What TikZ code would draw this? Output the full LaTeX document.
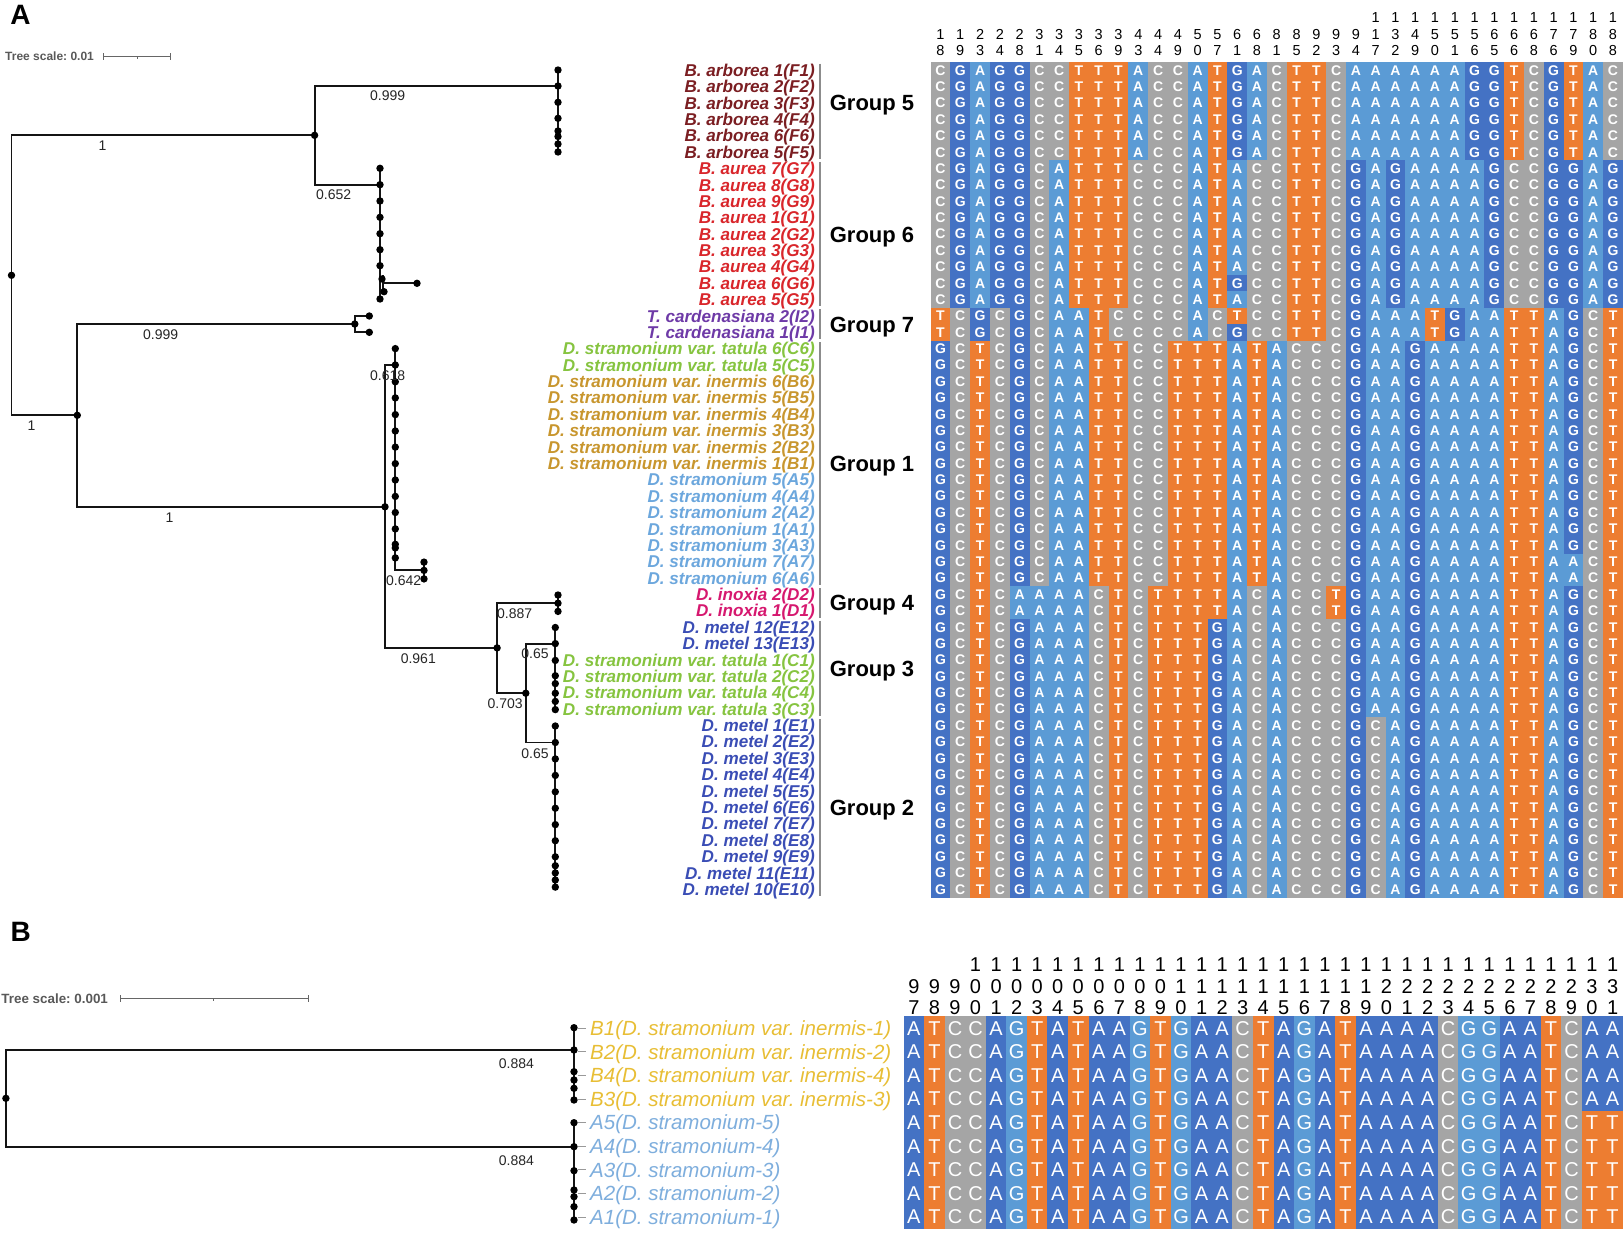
\documentclass[tikz,border=0pt]{standalone}
\usepackage{fontspec}
\setmainfont{Liberation Sans}
\usepackage{xstring}
\frenchspacing
\definecolor{cAA}{HTML}{5B9BD5}
\definecolor{cAG}{HTML}{4472C4}
\definecolor{cAT}{HTML}{ED7D31}
\definecolor{cAC}{HTML}{A5A5A5}
\definecolor{cBA}{HTML}{4472C4}
\definecolor{cBG}{HTML}{5B9BD5}
\definecolor{cBT}{HTML}{ED7D31}
\definecolor{cBC}{HTML}{A5A5A5}
\definecolor{arb}{HTML}{7B1E22}
\definecolor{aur}{HTML}{D9262B}
\definecolor{car}{HTML}{6E3AA7}
\definecolor{tat}{HTML}{86C440}
\definecolor{ine}{HTML}{C8962E}
\definecolor{str}{HTML}{6CA7DD}
\definecolor{ino}{HTML}{D6186F}
\definecolor{met}{HTML}{3A4DB5}
\definecolor{bine}{HTML}{E8BE35}
\definecolor{bstr}{HTML}{7EAEDD}
\def\SqV{CGAGGCCTTTACCATGACTTCAAAAAAGGTCGTAC}
\def\SqVI{CGAGGCATTTCCCATACCTTCGAGAAAAGCCGGAG}
\def\SqVIb{CGAGGCATTTCCCATGCCTTCGAGAAAAGCCGGAG}
\def\SqVIIa{TCGCGCAATCCCCACTCCTTCGAAATGAATTAGCT}
\def\SqVIIb{TCGCGCAATCCCCACGCCTTCGAAATGAATTAGCT}
\def\SqI{GCTCGCAATTCCTTTATACCCGAAGAAAATTAGCT}
\def\SqIb{GCTCGCAATTCCTTTATACCCGAAGAAAATTAACT}
\def\SqIV{GCTCAAAACTCTTTTACACCTGAAGAAAATTAGCT}
\def\SqIII{GCTCGAAACTCTTTGACACCCGAAGAAAATTAGCT}
\def\SqII{GCTCGAAACTCTTTGACACCCGCAGAAAATTAGCT}
\def\SqBa{ATCCAGTATAAGTGAACTAGATAAAACGGAATCAA}
\def\SqBb{ATCCAGTATAAGTGAACTAGATAAAACGGAATCTT}
\newcommand\pickA[1]{%
 \ifnum#1<7 \let\curseq\SqV
 \else\ifnum#1=14 \let\curseq\SqVIb
 \else\ifnum#1<16 \let\curseq\SqVI
 \else\ifnum#1=16 \let\curseq\SqVIIa
 \else\ifnum#1=17 \let\curseq\SqVIIb
 \else\ifnum#1<31 \let\curseq\SqI
 \else\ifnum#1<33 \let\curseq\SqIb
 \else\ifnum#1<35 \let\curseq\SqIV
 \else\ifnum#1<41 \let\curseq\SqIII
 \else \let\curseq\SqII
 \fi\fi\fi\fi\fi\fi\fi\fi\fi}
\def\AX{930.6}\def\AY{62.1}\def\AW{19.78}\def\AH{16.38}
\def\BX{903.6}\def\BY{1016.4}\def\BW{20.55}\def\BH{23.59}
\begin{document}
\begin{tikzpicture}[x=1pt,y=-1pt,
  br/.style={line width=1.9pt, draw=black!92, line cap=rect},
  gA/.style={font=\fontsize{14}{14}\selectfont\bfseries, text=white, inner sep=0pt},
  gB/.style={font=\fontsize{20}{20}\selectfont, text=white, inner sep=0pt},
  hA/.style={font=\fontsize{14.5}{14.5}\selectfont, text=black, inner sep=0pt},
  hB/.style={font=\fontsize{20}{20}\selectfont, text=black, inner sep=0pt},
  labA/.style={font=\fontsize{17.1}{17.1}\selectfont\bfseries\itshape, inner sep=0pt, anchor=base east},
  labB/.style={font=\fontsize{20.5}{20.5}\selectfont\itshape, inner sep=0pt, anchor=base west},
  grp/.style={font=\fontsize{22}{22}\selectfont\bfseries, inner sep=0pt, anchor=base},
  sup/.style={font=\fontsize{14}{14}\selectfont, text=black!85, inner sep=0pt},
  gbar/.style={draw=black!45, line width=1.6pt},
  sbar/.style={draw=black!60, line width=1pt},
  ts/.style={text=black!65, inner sep=0pt, anchor=west},
  pl/.style={font=\fontsize{28}{28}\selectfont\bfseries, inner sep=0pt},
]
\useasboundingbox (0,0) rectangle (1623,1232);
\fill[white] (0,0) rectangle (1623,1232);

% ================= PANEL A =================
\node[pl] (pA) at (20.5,15) {A};
\node[ts, font=\fontsize{12}{12}\selectfont\bfseries] (tsA) at (5,56) {Tree scale: 0.01};
\coordinate (sa1) at (103.3,56); \coordinate (sa2) at (170.3,56);
\draw[sbar] (sa1) -- (sa2);
\draw[sbar] ([yshift=-3.5pt]sa1) -- ([yshift=3.5pt]sa1);
\draw[sbar] ([yshift=-3.5pt]sa2) -- ([yshift=3.5pt]sa2);
\draw[sbar] (137,56) -- (137,58.5);

% alignment A
\foreach \r in {1,...,51}{
  \pickA{\r}
  \foreach \c in {1,...,35}{
    \StrChar{\curseq}{\c}[\ch]
    \edef\cc{cA\ch}
    \fill[fill=\cc] ({\AX+\AW*(\c-1)},{\AY+\AH*(\r-1)}) rectangle ++(\AW+0.4,\AH+0.4);
    \node[gA] (a-\r-\c) at ({\AX+\AW*(\c-0.5)},{\AY+\AH*(\r-0.5)}) {\ch};
  }
}
% header A
\foreach \n [count=\k] in {18,19,23,24,28,31,34,35,36,39,43,44,49,50,57,61,68,81,85,92,93,94,117,132,149,150,151,156,165,166,168,176,179,180,188}{
  \pgfmathtruncatemacro\hd{\n/100}
  \pgfmathtruncatemacro\td{mod(\n,100)/10}
  \pgfmathtruncatemacro\ud{mod(\n,10)}
  \ifnum\n>99 \node[hA] (hAh\k) at ({\AX+\AW*(\k-0.5)},18) {\hd};\fi
  \node[hA] (hAt\k) at ({\AX+\AW*(\k-0.5)},34.5) {\td};
  \node[hA] (hAu\k) at ({\AX+\AW*(\k-0.5)},50.5) {\ud};
}
% labels A
\foreach \r/\t/\cl in {
 1/B. arborea 1(F1)/arb, 2/B. arborea 2(F2)/arb, 3/B. arborea 3(F3)/arb,
 4/B. arborea 4(F4)/arb, 5/B. arborea 6(F6)/arb, 6/B. arborea 5(F5)/arb,
 7/B. aurea 7(G7)/aur, 8/B. aurea 8(G8)/aur, 9/B. aurea 9(G9)/aur,
 10/B. aurea 1(G1)/aur, 11/B. aurea 2(G2)/aur, 12/B. aurea 3(G3)/aur,
 13/B. aurea 4(G4)/aur, 14/B. aurea 6(G6)/aur, 15/B. aurea 5(G5)/aur,
 16/T. cardenasiana 2(I2)/car, 17/T. cardenasiana 1(I1)/car,
 18/D. stramonium var. tatula 6(C6)/tat, 19/D. stramonium var. tatula 5(C5)/tat,
 20/D. stramonium var. inermis 6(B6)/ine, 21/D. stramonium var. inermis 5(B5)/ine,
 22/D. stramonium var. inermis 4(B4)/ine, 23/D. stramonium var. inermis 3(B3)/ine,
 24/D. stramonium var. inermis 2(B2)/ine, 25/D. stramonium var. inermis 1(B1)/ine,
 26/D. stramonium 5(A5)/str, 27/D. stramonium 4(A4)/str, 28/D. stramonium 2(A2)/str,
 29/D. stramonium 1(A1)/str, 30/D. stramonium 3(A3)/str, 31/D. stramonium 7(A7)/str,
 32/D. stramonium 6(A6)/str,
 33/D. inoxia 2(D2)/ino, 34/D. inoxia 1(D1)/ino,
 35/D. metel 12(E12)/met, 36/D. metel 13(E13)/met,
 37/D. stramonium var. tatula 1(C1)/tat, 38/D. stramonium var. tatula 2(C2)/tat,
 39/D. stramonium var. tatula 4(C4)/tat, 40/D. stramonium var. tatula 3(C3)/tat,
 41/D. metel 1(E1)/met, 42/D. metel 2(E2)/met, 43/D. metel 3(E3)/met,
 44/D. metel 4(E4)/met, 45/D. metel 5(E5)/met, 46/D. metel 6(E6)/met,
 47/D. metel 7(E7)/met, 48/D. metel 8(E8)/met, 49/D. metel 9(E9)/met,
 50/D. metel 11(E11)/met, 51/D. metel 10(E10)/met}{
  \node[labA, text=\cl] (la\r) at (815,{\AY+\AH*(\r-0.5)+6.1}) {\t};
}
% group bars and names
\foreach \a/\b/\g/\gy in {1/6/5/103, 7/15/6/234.1, 16/17/7/324.2, 18/32/1/463.4, 33/34/4/602.6, 35/40/3/668.2, 41/51/2/807.4}{
  \draw[gbar] (820,{\AY+\AH*(\a-1)+1.5}) -- (820,{\AY+\AH*\b-1.5});
  \node[grp] (grp\g) at (872,\gy+7.9) {Group \g};
}

% tree A
\coordinate (R) at (11.5,275.3);
\coordinate (U) at (314.6,135.3);
\coordinate (L) at (77.3,415.3);
\coordinate (t5) at (558,86);
\coordinate (t6) at (380,184.7);
\coordinate (F7) at (354.8,324);
\coordinate (i2) at (369.3,316);
\coordinate (i1) at (369.3,332.3);
\coordinate (D) at (385,506.8);
\coordinate (t1) at (395.3,365);
\coordinate (M) at (497.1,647.9);
\coordinate (t4) at (558,603.2);
\coordinate (N) at (525.8,693.2);
\coordinate (t3) at (555.3,643.6);
\coordinate (t2) at (555.3,742.5);
\draw[br] (R) |- (U); \draw[br] (R) |- (L);
\draw[br] (U) |- (t5); \draw[br] (U) |- (t6);
\draw[br] (L) |- (F7); \draw[br] (F7) |- (i2); \draw[br] (F7) |- (i1);
\draw[br] (L) |- (D);
\draw[br] (D) |- (t1); \draw[br] (D) |- (M);
\draw[br] (M) |- (t4); \draw[br] (M) |- (N);
\draw[br] (N) |- (t3); \draw[br] (N) |- (t2);
\foreach \p in {R,U,L,F7,i2,i1,D,M,N} \fill (\p) circle (3.7pt);
% clusters
\draw[br] (558,70) -- (558,152);
\foreach \y in {70,86,102.3,118.3,131,136.5,144,152} \fill (558,\y) circle (3.7pt);
\draw[br] (380,168.3) -- (380,299);
\draw[br] (383,276) -- (383,292);
\draw[br] (383,283.3) -- (417,283.3);
\foreach \y in {168.3,184.7,201,217.3,233.7,249.7,265.7,299} \fill (380,\y) circle (3.7pt);
\fill (382,279) circle (3.7pt); \fill (384,291.7) circle (3.7pt); \fill (417,283.3) circle (3.7pt);
\draw[br] (395.3,348.6) -- (395.3,570.4) -- (424,570.4);
\draw[br] (424,562.1) -- (424,578.9);
\foreach \y in {348.6,365,381.8,397.9,414.6,431,447.1,463.6,480,496.4,512.5,528.9,544.3,547.9,557.9} \fill (395.3,\y) circle (3.7pt);
\foreach \y in {562.1,570.4,578.9} \fill (424,\y) circle (3.7pt);
\draw[br] (558,595) -- (558,611.4);
\foreach \y in {595,603.2,611.4} \fill (558,\y) circle (3.7pt);
\draw[br] (555.3,627.5) -- (555.3,709.6);
\foreach \y in {627.5,643.6,660.4,675.7,683.6,693.2,701.4,709.6} \fill (555.3,\y) circle (3.7pt);
\draw[br] (555.3,726) -- (555.3,887.1);
\foreach \y in {726,742.5,758.9,775.4,791.8,808.2,824.6,840.7,856.8,865.7,872.9,880,887.1} \fill (555.3,\y) circle (3.7pt);
% support values
\node[sup] (s1) at (102.6,145.7) {1};
\node[sup] (s2) at (387.7,96) {0.999};
\node[sup] (s3) at (333.7,195) {0.652};
\node[sup] (s4) at (31.4,426) {1};
\node[sup] (s5) at (160.7,334.3) {0.999};
\node[sup] (s6) at (169.5,517.5) {1};
\node[sup] (s7) at (387.7,375.7) {0.618};
\node[sup] (s8) at (403.7,581) {0.642};
\node[sup] (s9) at (418.3,658.6) {0.961};
\node[sup] (s10) at (514.7,613.2) {0.887};
\node[sup] (s11) at (505.2,703.2) {0.703};
\node[sup] (s12) at (535,654) {0.65};
\node[sup] (s13) at (535,753.2) {0.65};

% ================= PANEL B =================
\node[pl] (pB) at (20.7,932) {B};
\node[ts, font=\fontsize{13.4}{13.4}\selectfont\bfseries] (tsB) at (1.2,998.3) {Tree scale: 0.001};
\coordinate (sb1) at (120.3,998.3); \coordinate (sb2) at (308,998.3);
\draw[sbar] (sb1) -- (sb2);
\draw[sbar] ([yshift=-3.5pt]sb1) -- ([yshift=3.5pt]sb1);
\draw[sbar] ([yshift=-3.5pt]sb2) -- ([yshift=3.5pt]sb2);
\draw[sbar] (213,998.3) -- (213,1000.8);

\foreach \r in {1,...,9}{
  \ifnum\r<5 \let\curseq\SqBa \else \let\curseq\SqBb \fi
  \foreach \c in {1,...,35}{
    \StrChar{\curseq}{\c}[\ch]
    \edef\cc{cB\ch}
    \fill[fill=\cc] ({\BX+\BW*(\c-1)},{\BY+\BH*(\r-1)}) rectangle ++(\BW+0.4,\BH+0.4);
    \node[gB] (b-\r-\c) at ({\BX+\BW*(\c-0.5)},{\BY+\BH*(\r-0.5)}) {\ch};
  }
}
\foreach \n [count=\k] in {97,...,131}{
  \pgfmathtruncatemacro\hd{\n/100}
  \pgfmathtruncatemacro\td{mod(\n,100)/10}
  \pgfmathtruncatemacro\ud{mod(\n,10)}
  \ifnum\n>99 \node[hB] (hBh\k) at ({\BX+\BW*(\k-0.5)},965) {\hd};\fi
  \node[hB] (hBt\k) at ({\BX+\BW*(\k-0.5)},987) {\td};
  \node[hB] (hBu\k) at ({\BX+\BW*(\k-0.5)},1008) {\ud};
}
\foreach \k/\t/\cl in {
 1/B1(D. stramonium var. inermis-1)/bine, 2/B2(D. stramonium var. inermis-2)/bine,
 3/B4(D. stramonium var. inermis-4)/bine, 4/B3(D. stramonium var. inermis-3)/bine,
 5/A5(D. stramonium-5)/bstr, 6/A4(D. stramonium-4)/bstr, 7/A3(D. stramonium-3)/bstr,
 8/A2(D. stramonium-2)/bstr, 9/A1(D. stramonium-1)/bstr}{
  \node[labB, text=\cl] (lb\k) at (590,{\BY+\BH*(\k-0.5)+7.3}) {\t};
  \draw[black!40, line width=0.8pt] (578,{\BY+\BH*(\k-0.5)}) -- (586,{\BY+\BH*(\k-0.5)});
}
\coordinate (RB) at (5.9,1098.3);
\coordinate (UB) at (574,1050);
\coordinate (LB) at (574,1146.7);
\draw[br] (RB) |- (UB); \draw[br] (RB) |- (LB);
\fill (RB) circle (3.7pt);
\draw[br] (574,1027.7) -- (574,1100);
\foreach \y in {1027.7,1050,1071.7,1080,1088.3,1100} \fill (574,\y) circle (3.7pt);
\draw[br] (574,1122.7) -- (574,1220);
\foreach \y in {1122.7,1146.7,1170.7,1190,1196.7,1206.7,1220} \fill (574,\y) circle (3.7pt);
\node[sup] (sb884a) at (516.4,1064) {0.884};
\node[sup] (sb884b) at (516.4,1161) {0.884};
\end{tikzpicture}
\end{document}
